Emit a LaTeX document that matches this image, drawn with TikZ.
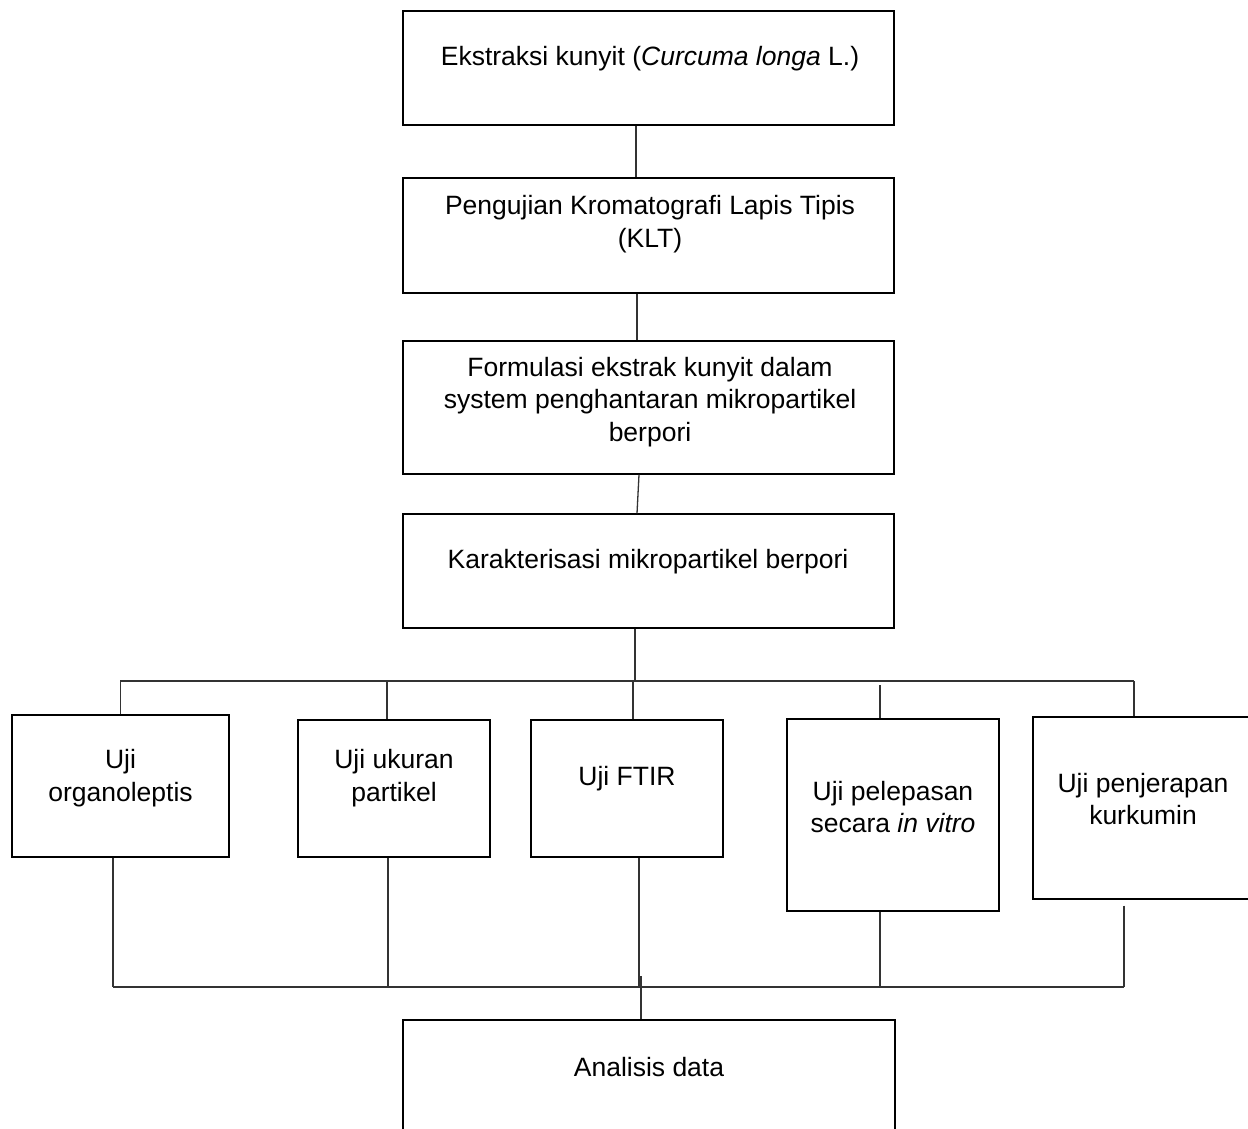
\documentclass[tikz,border=0pt]{standalone}
\usepackage{fontspec}
\setmainfont{Liberation Sans}
\begin{document}
\begin{tikzpicture}[x=1pt,y=-1pt,
  box/.style={draw=black,line width=1.2pt,inner sep=0pt,fill=none},
  txt/.style={align=center,inner sep=0pt,font=\fontsize{26.5}{32.5}\selectfont},
  conn/.style={draw=black!80,line width=1.3pt}]
\useasboundingbox (0,0) rectangle (1248,1128);
\clip (0,0) rectangle (1248,1128);
\fill[white] (0,0) rectangle (1248,1128);
% top chain boxes
\node[box,minimum width=491pt,minimum height=114pt] (b1) at (648.5,68) {};
\node[txt] (t1) at (650,59) {Ekstraksi kunyit (\textit{Curcuma longa} L.)};
\node[box,minimum width=491pt,minimum height=115pt] (b2) at (648.5,235.5) {};
\node[txt] (t2) at (650,224) {Pengujian Kromatografi Lapis Tipis\\(KLT)};
\node[box,minimum width=491pt,minimum height=133pt] (b3) at (648.5,407.5) {};
\node[txt] (t3) at (650,402) {Formulasi ekstrak kunyit dalam\\system penghantaran mikropartikel\\berpori};
\node[box,minimum width=491pt,minimum height=114pt] (b4) at (648.5,571) {};
\node[txt] (t4) at (648,562) {Karakterisasi mikropartikel berpori};
% test boxes
\node[box,minimum width=217pt,minimum height=142pt] (u1) at (120.5,786) {};
\node[txt] (v1) at (120.5,778) {Uji\\organoleptis};
\node[box,minimum width=192pt,minimum height=137pt] (u2) at (394,788.5) {};
\node[txt] (v2) at (394,778) {Uji ukuran\\partikel};
\node[box,minimum width=192pt,minimum height=137pt] (u3) at (627,788.5) {};
\node[txt] (v3) at (627,779) {Uji FTIR};
\node[box,minimum width=212pt,minimum height=192pt] (u4) at (893,815) {};
\node[txt] (v4) at (893,807) {Uji pelepasan\\secara \textit{in vitro}};
\node[box,minimum width=220pt,minimum height=182pt] (u5) at (1143,808) {};
\node[txt] (v5) at (1143,799) {Uji penjerapan\\kurkumin};
% final box
\node[box,minimum width=492pt,minimum height=130pt] (b5) at (649,1085) {};
\node[txt] (t5) at (649,1067) {Analisis data};
% chain connectors
\draw[conn] ([xshift=-12.5pt]b1.south) -- ([xshift=-12.5pt]b2.north);
\draw[conn] ([xshift=-11.5pt]b2.south) -- ([xshift=-11.5pt]b3.north);
\draw[conn] ([xshift=-9.5pt]b3.south) -- ([xshift=-11.5pt]b4.north);
% top bus
\coordinate (tl) at (120,681);
\coordinate (tr) at (1134,681);
\draw[conn] ([xshift=-13.5pt]b4.south) -- ([xshift=-13.5pt]b4.south |- tl);
\draw[conn] (tl) -- (tr);
\draw[conn] (u1.north) -- (u1.north |- tl);
\draw[conn] ([xshift=-7pt]u2.north) -- ([xshift=-7pt]u2.north |- tl);
\draw[conn] ([xshift=6pt]u3.north) -- ([xshift=6pt]u3.north |- tl);
\draw[conn] ([xshift=-13pt]u4.north) -- ([xshift=-13pt,yshift=-4pt]u4.north |- tl);
\draw[conn] ([xshift=-9pt]u5.north) -- ([xshift=-9pt]u5.north |- tl);
% bottom bus
\coordinate (bl) at (113,987);
\coordinate (br) at (1124,987);
\coordinate (bj) at (641,976);
\draw[conn] (bl) -- (br);
\draw[conn] ([xshift=-7.5pt]u1.south) -- ([xshift=-7.5pt]u1.south |- bl);
\draw[conn] ([xshift=-6pt]u2.south) -- ([xshift=-6pt]u2.south |- bl);
\draw[conn] ([xshift=12pt]u3.south) -- ([xshift=12pt]u3.south |- bl);
\draw[conn] ([xshift=-13pt]u4.south) -- ([xshift=-13pt]u4.south |- bl);
\draw[conn] ([xshift=-19pt,yshift=-6pt]u5.south) -- ([xshift=-19pt]u5.south |- bl);
\draw[conn] (bj) -- (bj |- b5.north);
\end{tikzpicture}
\end{document}
